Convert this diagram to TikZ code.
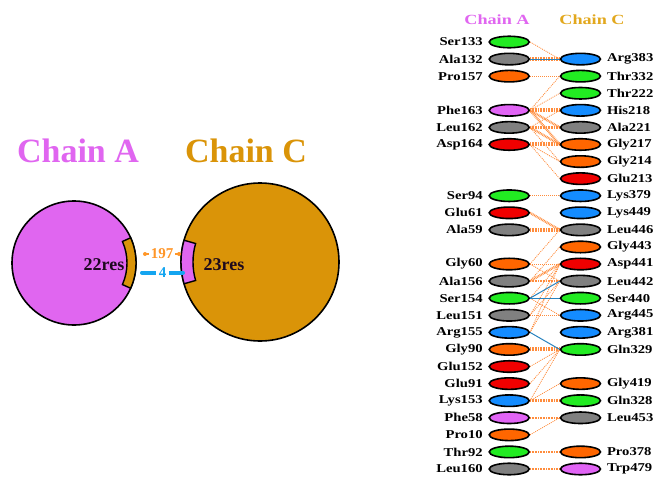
\documentclass[tikz,border=0pt]{standalone}
\usepackage{fontspec}
\setmainfont{Liberation Serif}
\usepackage{graphicx}
\usetikzlibrary{shapes.geometric}

\definecolor{chA}{RGB}{224,102,240}
\definecolor{chC}{RGB}{218,148,8}
\definecolor{hdC}{RGB}{226,168,30}
\definecolor{rgreen}{RGB}{34,235,34}
\definecolor{rgray}{RGB}{128,128,128}
\definecolor{rorange}{RGB}{255,102,0}
\definecolor{rblue}{RGB}{20,140,255}
\definecolor{rred}{RGB}{240,0,0}
\definecolor{rviolet}{RGB}{225,100,245}
\definecolor{hbcol}{RGB}{255,140,60}
\definecolor{sbcol}{RGB}{40,130,190}
\definecolor{cntO}{RGB}{255,150,40}
\definecolor{cntB}{RGB}{20,165,240}
\definecolor{inkdark}{RGB}{30,10,30}

\pgfdeclarelayer{bg}
\pgfsetlayers{bg,main}

\newcommand\widetxt[1]{\scalebox{1.22}[1]{#1}}

\begin{document}
\begin{tikzpicture}[x=1pt,y=-1pt,
  res/.style={ellipse, draw=black, line width=1.6pt, minimum width=40pt,
              minimum height=11.5pt, inner sep=0pt},
  rlbl/.style={font=\fontsize{12}{13}\selectfont\bfseries, inner sep=0pt, text=black},
  hbone/.style={draw=hbcol, line width=0.8pt, dash pattern=on 1pt off 1pt},
  hbtwo/.style={draw=hbcol, line width=2.4pt, dash pattern=on 0.8pt off 0.8pt},
  hbthree/.style={draw=hbcol, line width=4pt, dash pattern=on 0.8pt off 0.8pt},
  salt/.style={draw=sbcol, line width=1pt},
  big/.style={font=\fontsize{34}{40}\selectfont\bfseries, inner sep=0pt},
  resn/.style={font=\fontsize{18}{20}\selectfont\bfseries, text=inkdark, inner sep=0pt},
]
\useasboundingbox (0,0) rectangle (654,477);

% ---------- overview: the two chains ----------
\node[big, text=chA] (tA) at (78,151) {Chain A};
\node[big, text=chC] (tC) at (246,151) {Chain C};

\node[circle, draw=black, line width=1.6pt, fill=chA, minimum size=124pt, inner sep=0pt] (circA) at (74,263) {};
\node[circle, draw=black, line width=1.6pt, fill=chC, minimum size=158pt, inner sep=0pt] (circC) at (260,262) {};

% interface bands
\draw[fill=chC, line width=1.4pt]
  ([shift={(24:62pt)}]circA.center) arc[start angle=24, end angle=-24, radius=62pt]
  -- ([shift={(-24:53pt)}]circA.center) arc[start angle=-24, end angle=24, radius=53pt] -- cycle;
\draw[fill=chA, line width=1.4pt]
  ([shift={(164:79pt)}]circC.center) arc[start angle=164, end angle=196, radius=79pt]
  -- ([shift={(196:67pt)}]circC.center) arc[start angle=196, end angle=164, radius=67pt] -- cycle;

\node[resn] (rA) at (104,265) {22res};
\node[resn] (rC) at (224,265) {23res};

% bond counts between the chains
\coordinate (o1) at (145,254);
\coordinate (o2) at (179,254);
\draw[cntO, line width=1.2pt] (o1) -- node[fill=white, inner sep=1.5pt, text=cntO,
  font=\fontsize{15}{16}\selectfont\bfseries] (n197) {197} (o2);
\fill[cntO] (o1) circle (2pt) (o2) circle (2pt);

\coordinate (b1) at (142,272.5);
\coordinate (b2) at (183,272.5);
\draw[cntB, line width=4pt, line cap=round] (b1) -- node[fill=white, inner sep=2.5pt, text=cntB,
  font=\fontsize{15}{16}\selectfont\bfseries] (n4) {4} (b2);

% ---------- residue-level contacts ----------
\node[font=\fontsize{14}{15}\selectfont\bfseries, text=chA, inner sep=0pt] (hA) at (497,20) {\scalebox{1.3}[1]{Chain A}};
\node[font=\fontsize{14}{15}\selectfont\bfseries, text=hdC, inner sep=0pt] (hC) at (592,20) {\scalebox{1.3}[1]{Chain C}};

\foreach \nm/\r/\col in {Ser133/0/rgreen, Ala132/1/rgray, Pro157/2/rorange,
    Phe163/4/rviolet, Leu162/5/rgray, Asp164/6/rred, Ser94/9/rgreen,
    Glu61/10/rred, Ala59/11/rgray, Gly60/13/rorange, Ala156/14/rgray,
    Ser154/15/rgreen, Leu151/16/rgray, Arg155/17/rblue, Gly90/18/rorange,
    Glu152/19/rred, Glu91/20/rred, Lys153/21/rblue, Phe58/22/rviolet,
    Pro10/23/rorange, Thr92/24/rgreen, Leu160/25/rgray} {
  \node[res, fill=\col] (A\nm) at (509.2,{42+\r*17.08}) {};
  \node[rlbl, anchor=east] (lA\nm) at ([xshift=-5.5pt]A\nm.west) {\widetxt{\nm}};
}

\foreach \nm/\r/\col in {Arg383/1/rblue, Thr332/2/rgreen, Thr222/3/rgreen,
    His218/4/rblue, Ala221/5/rgray, Gly217/6/rorange, Gly214/7/rorange,
    Glu213/8/rred, Lys379/9/rblue, Lys449/10/rblue, Leu446/11/rgray,
    Gly443/12/rorange, Asp441/13/rred, Leu442/14/rgray, Ser440/15/rgreen,
    Arg445/16/rblue, Arg381/17/rblue, Gln329/18/rgreen, Gly419/20/rorange,
    Gln328/21/rgreen, Leu453/22/rgray, Pro378/24/rorange, Trp479/25/rviolet} {
  \node[res, fill=\col] (C\nm) at (580.5,{42+\r*17.08}) {};
  \node[rlbl, anchor=west] (lC\nm) at ([xshift=5.5pt]C\nm.east) {\widetxt{\nm}};
}

\begin{pgfonlayer}{bg}
  % single hydrogen bonds
  \foreach \a/\c in {Ser133/Arg383, Pro157/Thr332, Phe163/Thr332, Phe163/Thr222,
      Leu162/His218, Leu162/Gly214, Asp164/Gly214, Asp164/Glu213,
      Ser94/Lys379, Gly60/Leu446, Ala156/Gly443, Gly60/Asp441, Gly60/Leu442,
      Ser154/Asp441, Ser154/Ser440, Ser154/Arg445, Leu151/Asp441, Leu151/Leu442,
      Leu151/Arg445, Arg155/Leu442, Arg155/Asp441, Glu152/Gln329, Glu91/Gln329,
      Lys153/Gln329, Lys153/Gly419, Pro10/Leu453}
    \draw[hbone] (A\a.east) -- (C\c.west);
  % double contacts
  \foreach \a/\c in {Phe163/Ala221, Phe163/Gly217, Leu162/Ala221, Leu162/Gly217,
      Glu61/Leu446, Ala156/Asp441, Ala156/Leu442, Lys153/Gln328, Phe58/Leu453,
      Thr92/Pro378, Leu160/Trp479}
    \draw[hbtwo] (A\a.east) -- (C\c.west);
  % dense contacts
  \foreach \a/\c in {Ala132/Arg383, Phe163/His218, Asp164/Gly217, Ala59/Leu446, Gly90/Gln329}
    \draw[hbthree] (A\a.east) -- (C\c.west);
  % salt bridges
  \foreach \a/\c in {Ala132/Arg383, Ser154/Leu442, Ser154/Ser440, Arg155/Gln329}
    \draw[salt] (A\a.east) -- (C\c.west);
\end{pgfonlayer}
\end{tikzpicture}
\end{document}
